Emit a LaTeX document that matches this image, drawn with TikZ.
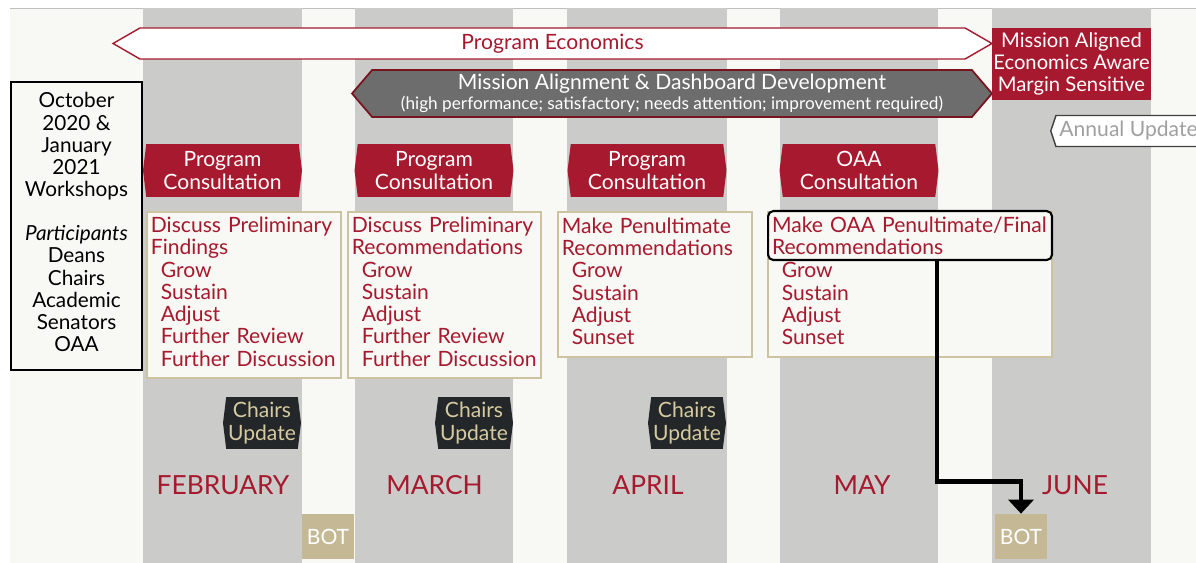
\documentclass[tikz,border=0pt]{standalone}
\usepackage{fontspec}
\setmainfont{Lato}
\usetikzlibrary{positioning, calc, arrows.meta, shapes.symbols}
\definecolor{garnet}{RGB}{166,25,46}
\definecolor{darkgarnet}{RGB}{120,20,30}
\definecolor{colgray}{RGB}{203,203,201}
\definecolor{bgoff}{RGB}{248,248,244}
\definecolor{dashgray}{RGB}{109,109,109}
\definecolor{boxtan}{RGB}{197,185,149}
\definecolor{bordertan}{RGB}{205,195,160}
\definecolor{chairsdark}{RGB}{35,39,42}
\definecolor{chairstext}{RGB}{214,202,160}
\definecolor{annualgray}{RGB}{160,160,160}
\newcommand{\optind}{\hspace*{0.2cm}}
\newcommand{\listpad}{\\[-9pt]\mbox{}}
\tikzset{
    basebox/.style={
        align=center,
        inner sep=1pt,
        font=\fontsize{12}{12.7}\selectfont
    },
    twopoint/.style={signal, signal to=west and east},
    consultbox/.style={basebox, twopoint, signal pointer angle=166, fill=garnet, text=white, minimum width=3.18cm, minimum height=1.06cm},
    chairsbox/.style={basebox, twopoint, signal pointer angle=166, fill=chairsdark, text=chairstext, minimum width=1.56cm, minimum height=1.04cm},
    listbox/.style={basebox, align=left, anchor=north west, draw=bordertan, line width=1pt, fill=bgoff, text=garnet, inner xsep=0.08cm, inner ysep=0.1cm},
    botbox/.style={basebox, fill=boxtan, text=white, minimum width=1.04cm, minimum height=0.9cm},
    monthlbl/.style={text=garnet, font=\fontsize{15}{16}\selectfont},
    bigarrow/.style={-{Triangle[length=0.28cm, width=0.5cm]}, line width=2.8pt, draw=black}
}

\begin{document}
\begin{tikzpicture}[x=0.02cm, y=-0.02cm]

    \useasboundingbox (0,0) rectangle (1196,563);

    % 1. Fondo y columnas de meses
    \fill[bgoff] (10,8) rectangle (1196,563);
    \draw[black!25] (10,8) -- (1196,8);
    \fill[colgray] (143,8) rectangle (302,563);
    \fill[colgray] (355,8) rectangle (513,563);
    \fill[colgray] (567,8) rectangle (727,563);
    \fill[colgray] (780,8) rectangle (938,563);
    \fill[colgray] (992,8) rectangle (1151,563);

    % 2. Barras superiores
    \node[basebox, twopoint, signal pointer angle=60, fill=white, draw=garnet, line width=0.8pt, text=garnet, minimum width=17.58cm, minimum height=0.62cm] (economics) at (552.5,43.5) {Program Economics};
    \node[basebox, twopoint, signal pointer angle=99, fill=dashgray, draw=darkgarnet, line width=1pt, text=white, minimum width=12.8cm, minimum height=0.94cm] (dashboard) at (672,93.5) {Mission Alignment \& Dashboard Development\\[-1pt] {\fontsize{9.8}{10.5}\selectfont (high performance; satisfactory; needs attention; improvement required)}};
    \node[basebox, fill=garnet, text=white, minimum width=3.18cm, minimum height=1.44cm, font=\fontsize{11.5}{12.5}\selectfont] (aligned) at (1071.5,64) {Mission Aligned\\Economics Aware\\Margin Sensitive};
    \node[basebox, signal, signal to=west, signal pointer angle=143, anchor=west, fill=white, draw=black!75, line width=0.8pt, text=annualgray, minimum height=0.62cm, inner xsep=2pt] (annual) at (1050,131) {Annual Update};

    % 3. Talleres (izquierda)
    \node[basebox, draw=black, line width=1.2pt, fill=bgoff, minimum width=2.62cm, minimum height=5.76cm, text depth=4.5pt, font=\fontsize{11.8}{12.6}\selectfont] (workshops) at (76.5,226) {October\\2020 \&\\January\\2021\\Workshops\\[12.6pt] \textit{Participants}\\Deans\\Chairs\\Academic\\Senators\\OAA};

    % 4. Consultas
    \node[consultbox] (consult1) at (222.5,170.5) {Program\\Consultation};
    \node[consultbox] (consult2) at (434,170.5) {Program\\Consultation};
    \node[consultbox] (consult3) at (647,170.5) {Program\\Consultation};
    \node[consultbox] (consult4) at (859,170.5) {OAA\\Consultation};

    % 5. Listas de recomendaciones
    \node[listbox, text width=3.72cm, minimum height=3.3cm] (list1) at (146,211) {Discuss Preliminary\\Findings\\\optind Grow\\\optind Sustain\\\optind Adjust\\\optind Further Review\\\optind Further Discussion\listpad};
    \node[listbox, text width=3.70cm, minimum height=3.3cm] (list2) at (347,211) {Discuss Preliminary\\Recommendations\\\optind Grow\\\optind Sustain\\\optind Adjust\\\optind Further Review\\\optind Further Discussion\listpad};
    \node[listbox, text width=3.72cm, minimum height=2.9cm] (list3) at (557,211) {Make Penultimate\\Recommendations\\\optind Grow\\\optind Sustain\\\optind Adjust\\\optind Sunset\listpad};
    \node[listbox, text width=5.52cm, minimum height=2.9cm] (list4) at (767,211) {\strut\\\strut\\\optind Grow\\\optind Sustain\\\optind Adjust\\\optind Sunset\listpad};
    \node[listbox, draw=black, line width=1.2pt, rounded corners=3pt, text width=5.52cm, minimum height=0.98cm, inner ysep=0.04cm] (oaafinal) at (767,210) {Make OAA Penultimate/Final\\Recommendations};

    % 6. Actualizaciones a directores
    \node[chairsbox] (chairs1) at (262,423) {Chairs\\Update};
    \node[chairsbox] (chairs2) at (474,423) {Chairs\\Update};
    \node[chairsbox] (chairs3) at (687,423) {Chairs\\Update};

    % 7. Meses
    \node[monthlbl] (feb) at (223,485) {FEBRUARY};
    \node[monthlbl] (mar) at (434.5,485) {MARCH};
    \node[monthlbl] (apr) at (648,485) {APRIL};
    \node[monthlbl] (may) at (862,485) {MAY};
    \node[monthlbl] (jun) at (1075,485) {JUNE};

    % 8. BOT
    \node[botbox] (bot1) at (328,536.5) {BOT};
    \node[botbox] (bot2) at (1021,536.5) {BOT};

    % Conexiones (Flechas)
    \draw[bigarrow] ([xshift=0.54cm]oaafinal.south) -- ++(0,220) -| (bot2.north);

\end{tikzpicture}
\end{document}
